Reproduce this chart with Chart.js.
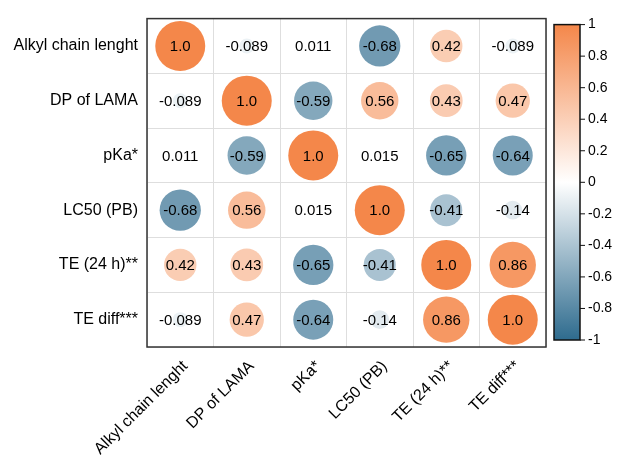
<!DOCTYPE html>
<html>
<head>
<meta charset="utf-8">
<script src="https://cdn.jsdelivr.net/npm/chart.js@4"></script>
<style>
  body { margin: 0; background: #fff; }
  #wrap { width: 622px; height: 456px; }
</style>
</head>
<body>
<div id="wrap"><canvas id="c" width="622" height="456"></canvas></div>
<script>
// variable names (same order on both axes)
var vars = ["Alkyl chain lenght", "DP of LAMA", "pKa*", "LC50 (PB)", "TE (24 h)**", "TE diff***"];

// correlation matrix, row by row
var row0 = [1, -0.089, 0.011, -0.68, 0.42, -0.089];
var row1 = [-0.089, 1, -0.59, 0.56, 0.43, 0.47];
var row2 = [0.011, -0.59, 1, 0.015, -0.65, -0.64];
var row3 = [-0.68, 0.56, 0.015, 1, -0.41, -0.14];
var row4 = [0.42, 0.43, -0.65, -0.41, 1, 0.86];
var row5 = [-0.089, 0.47, -0.64, -0.14, 0.86, 1];
var matrix = [row0, row1, row2, row3, row4, row5];

// colour bar ticks
var barTicks = [1, 0.8, 0.6, 0.4, 0.2, 0, -0.2, -0.4, -0.6, -0.8, -1];

var FONT = "'Liberation Sans', Arial, sans-serif";
var MAX_R = 25; // radius of a |r| = 1 circle

// blue -> white -> orange
var colorFor = function(v) {
  var blue = [46, 107, 142], orange = [244, 135, 74];
  var end = v < 0 ? blue : orange;
  var t = Math.min(1, Math.abs(v));
  var c = end.map(function(e) { return Math.round(255 + (e - 255) * t); });
  return "rgb(" + c[0] + "," + c[1] + "," + c[2] + ")";
};

var fmt = function(v) {
  return v === 1 ? "1.0" : String(v);
};

// build bubble points from the matrix (category names as x / y)
var points = [];
for (var i = 0; i < vars.length; i++) {
  for (var j = 0; j < vars.length; j++) {
    points.push({ x: vars[j], y: vars[i], v: matrix[i][j] });
  }
}

// circle area ~ |r|
var radiusFor = function(ctx) {
  var raw = ctx.raw;
  if (!raw) return 0;
  return MAX_R * Math.sqrt(Math.abs(raw.v));
};

// frame, numbers and colour bar
var extras = {
  id: "extras",
  afterDatasetsDraw: function(chart) {
    var ctx = chart.ctx;
    var a = chart.chartArea;
    var xs = chart.scales.x, ys = chart.scales.y;
    ctx.save();
    ctx.fillStyle = "#000";
    ctx.font = "15px " + FONT;
    ctx.textAlign = "center";
    ctx.textBaseline = "middle";
    points.forEach(function(p) {
      ctx.fillText(fmt(p.v), xs.getPixelForValue(vars.indexOf(p.x)), ys.getPixelForValue(vars.indexOf(p.y)) + 1);
    });
    // frame
    ctx.strokeStyle = "#333";
    ctx.lineWidth = 1.5;
    ctx.strokeRect(a.left, a.top, a.right - a.left, a.bottom - a.top);

    // colour bar
    var bx = a.right + 8, bw = 26, top = a.top + 6, bot = a.bottom - 7;
    var g = ctx.createLinearGradient(0, top, 0, bot);
    g.addColorStop(0, colorFor(1));
    g.addColorStop(0.5, colorFor(0));
    g.addColorStop(1, colorFor(-1));
    ctx.fillStyle = g;
    ctx.fillRect(bx, top, bw, bot - top);
    ctx.strokeStyle = "#111";
    ctx.strokeRect(bx, top, bw, bot - top);
    ctx.fillStyle = "#000";
    ctx.font = "14px " + FONT;
    ctx.textAlign = "left";
    ctx.lineWidth = 1;
    barTicks.forEach(function(t) {
      var y = top + (1 - t) / 2 * (bot - top);
      ctx.beginPath();
      ctx.moveTo(bx + bw, y);
      ctx.lineTo(bx + bw + 5, y);
      ctx.stroke();
      ctx.fillText(String(t), bx + bw + 8, y);
    });
    ctx.restore();
  }
};

new Chart(document.getElementById("c"), {
  type: "bubble",
  data: {
    datasets: [{
      data: points,
      backgroundColor: function(ctx) { return ctx.raw ? colorFor(ctx.raw.v) : "#fff"; },
      borderWidth: 0,
      radius: radiusFor,
      hoverRadius: 0
    }]
  },
  options: {
    responsive: false,
    animation: false,
    layout: { autoPadding: false, padding: { top: 13, right: 76, left: 0, bottom: 0 } },
    plugins: { legend: { display: false }, tooltip: { enabled: false } },
    scales: {
      x: {
        type: "category",
        labels: vars,
        offset: true,
        grid: { offset: true, color: "#dedede", lineWidth: 1, drawTicks: false },
        border: { display: false },
        ticks: {
          color: "#000",
          font: { size: 16, family: FONT },
          minRotation: 45, maxRotation: 45,
          padding: 10,
          labelOffset: 5
        },
        afterFit: function(s) { s.height = 109; }
      },
      y: {
        type: "category",
        labels: vars,
        offset: true,
        grid: { offset: true, color: "#dedede", lineWidth: 1, drawTicks: false },
        border: { display: false },
        ticks: {
          color: "#000",
          font: { size: 16, family: FONT },
          padding: 9
        },
        afterFit: function(s) { s.width = 147; }
      }
    }
  },
  plugins: [extras]
});
</script>
</body>
</html>
